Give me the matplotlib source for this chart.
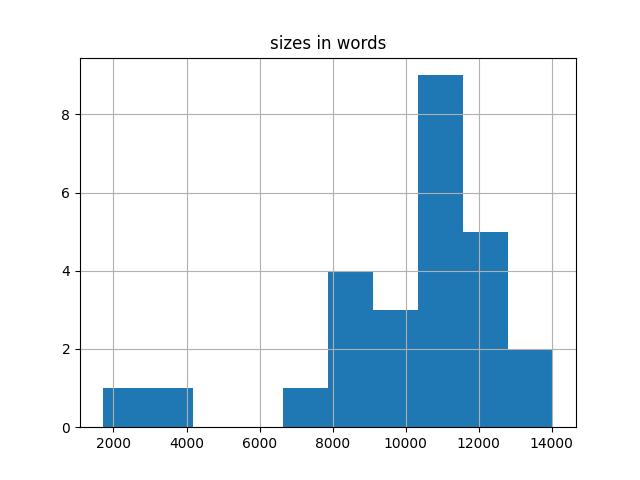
import matplotlib
matplotlib.use('Agg')
import matplotlib.pyplot as plt

# word counts per document
sizes = [1700, 3600,
         7100,
         8000, 8300, 8600, 8900,
         9300, 9700, 10100,
         10400, 10600, 10700, 10800, 10900, 11000, 11200, 11300, 11500,
         11700, 11900, 12200, 12500, 12700,
         13300, 14050]
n_bins = 10
title = "sizes in words"

fig, ax = plt.subplots(figsize=(6.4, 4.8), dpi=100)
ax.hist(sizes, bins=n_bins)
ax.grid(True)
ax.set_title(title)
fig.savefig("out.png")
